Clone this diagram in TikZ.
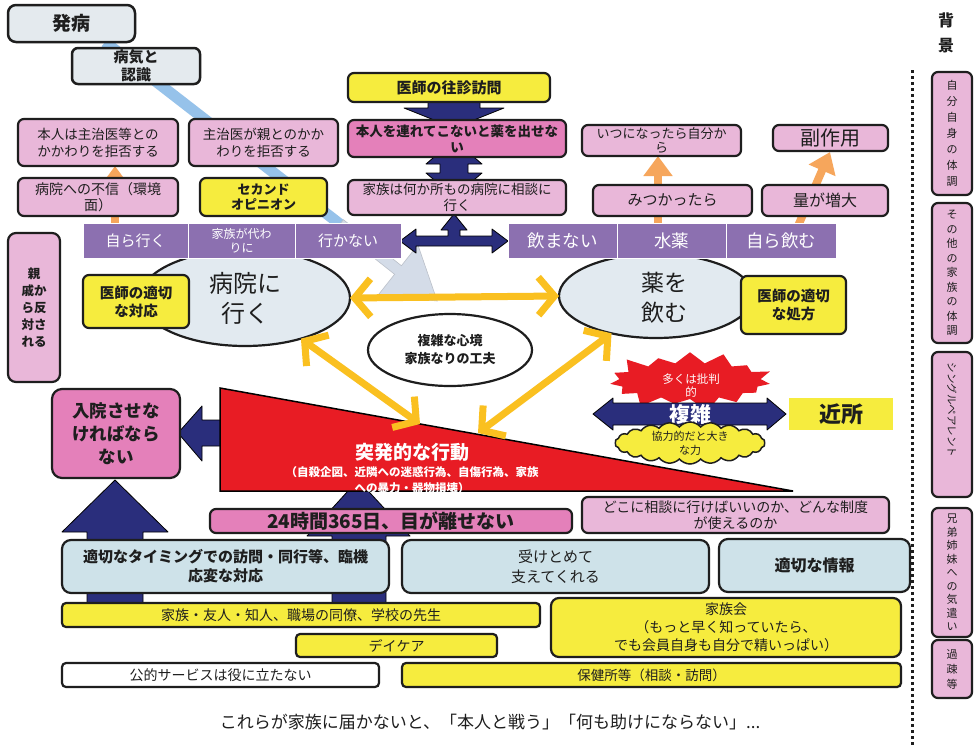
\documentclass[tikz,border=0pt]{standalone}
\usepackage{fontspec}
\setmainfont{Noto Sans CJK JP}
\usetikzlibrary{shapes.geometric,shapes.symbols,arrows.meta}
\pgfdeclarelayer{bgw}
\pgfdeclarelayer{bg}
\pgfsetlayers{bgw,bg,main}
\definecolor{pinkL}{RGB}{233,183,217}
\definecolor{pinkD}{RGB}{228,128,186}
\definecolor{yel}{RGB}{246,236,62}
\definecolor{lblue}{RGB}{206,226,233}
\definecolor{gbox}{RGB}{228,234,238}
\definecolor{ellf}{RGB}{226,234,240}
\definecolor{purp}{RGB}{140,112,176}
\definecolor{navy}{RGB}{42,46,124}
\definecolor{redt}{RGB}{232,28,36}
\definecolor{gold}{RGB}{250,192,32}
\definecolor{orng}{RGB}{246,166,92}
\definecolor{bandc}{RGB}{150,194,234}
\definecolor{palec}{RGB}{212,220,232}
\definecolor{ink}{RGB}{30,30,30}
\newcommand\fs[2]{\fontsize{#1}{#2}\selectfont}
\newcommand\bx[7]{\node[#2, minimum width={(#5)-(#3)}, minimum height={(#6)-(#4)}] (#1) at ({((#3)+(#5))/2},{((#4)+(#6))/2}) {#7};}
\tikzset{
 bxs/.style={draw=ink, line width=2.2pt, rounded corners=6pt, inner sep=0pt, outer sep=0pt, align=center, text=ink},
 pl/.style={bxs, fill=pinkL},
 pd/.style={bxs, fill=pinkD},
 yb/.style={bxs, fill=yel},
 lb/.style={bxs, fill=lblue},
 gb/.style={bxs, fill=gbox},
 wb/.style={bxs, fill=white},
 plainy/.style={fill=yel, inner sep=0pt, outer sep=0pt, text=ink},
 cell/.style={fill=purp, draw=white, line width=1pt, inner sep=0pt, outer sep=0pt, align=center, text=white},
 ell/.style={ellipse, draw=ink, line width=2.2pt, inner sep=0pt, outer sep=0pt, align=center, text=ink},
 navyarr/.style={fill=navy, draw=black, line width=0.8pt, line join=round},
 goldarr/.style={draw=gold, line width=7pt, >={Straight Barb[length=16pt,width=38pt]}, <->},
 orarr/.style={draw=orng, line width=8pt, -{Triangle[length=20pt,width=28pt]}},
}
\begin{document}
\begin{tikzpicture}[x=1pt,y=-1pt]
\useasboundingbox (0,0) rectangle (974,745);
\begin{pgfonlayer}{bgw}
\fill[white] (0,0) rectangle (974,745);
\end{pgfonlayer}

% top left
\bx{hatsu}{gb,font=\fs{19}{22}\bfseries,rounded corners=8pt,line width=2.5pt}{8}{5}{135}{42}{発病}
\bx{ninshiki}{gb,font=\fs{15}{18}\bfseries,line width=2.5pt}{72}{48}{200}{84}{病気と\\認識}
% center stack
\bx{oushin}{yb,font=\fs{15}{18}\bfseries}{348}{73}{550}{102}{医師の往診訪問}
\bx{tsurete}{pd,font=\fs{13.5}{16}\bfseries}{348}{120}{566}{157}{本人を連れてこないと薬を出せな\\い}
\bx{soudan}{pl,font=\fs{13.5}{16}}{348}{180}{566}{215}{家族は何か所もの病院に相談に\\行く}
% left pinks
\bx{kyohi1}{pl,font=\fs{13.5}{17}}{18}{119}{178}{166}{本人は主治医等との\\かかわりを拒否する}
\bx{kyohi2}{pl,font=\fs{13.5}{17}}{189}{119}{338}{166}{主治医が親とのかか\\わりを拒否する}
\bx{fushin}{pl,font=\fs{14}{16}}{18}{178}{178}{216}{病院への不信（環境\\面）}
\bx{second}{yb,font=\fs{13}{15}\bfseries}{200}{178}{327}{216}{セカンド\\オピニオン}
% right pinks
\bx{itsu}{pl,font=\fs{13}{14}}{582}{125}{741}{156}{いつになったら自分か\\ら}
\bx{fuku}{pl,font=\fs{20}{22}}{773}{125}{888}{151}{副作用}
\bx{mitsu}{pl,font=\fs{15}{18}}{593}{185}{752}{216}{みつかったら}
\bx{zoudai}{pl,font=\fs{16}{18}}{762}{185}{888}{216}{量が増大}

% ellipses
\node[ell, fill=ellf, minimum width=210pt, minimum height=96pt, font=\fs{24}{30}] (byoin) at (245,298) {病院に\\行く};
\node[ell, fill=ellf, minimum width=194pt, minimum height=84pt] (kusuri) at (656,296) {};
\node[font=\fs{23}{30}, align=center, text=ink] (kusurit) at (664,298) {薬を\\飲む};

% purple bars
\bx{c1}{cell,font=\fs{15}{18}}{83}{223}{188}{258}{自ら行く}
\bx{c2}{cell,font=\fs{12}{14}}{188}{223}{295}{258}{家族が代わ\\りに}
\bx{c3}{cell,font=\fs{15}{18}}{295}{223}{401}{258}{行かない}
\bx{c4}{cell,font=\fs{17.5}{20}}{508}{223}{617}{258}{飲まない}
\bx{c5}{cell,font=\fs{17.5}{20}}{617}{223}{726}{258}{水薬}
\bx{c6}{cell,font=\fs{17.5}{20}}{726}{223}{836}{258}{自ら飲む}

% yellow doctor boxes and relatives
\bx{taiou}{yb,font=\fs{14.5}{18}\bfseries}{83}{275}{189}{328}{医師の適切\\な対応}
\bx{shohou}{yb,font=\fs{14.5}{18}\bfseries}{741}{276}{846}{334}{医師の適切\\な処方}
\bx{shinseki}{pl,font=\fs{12.5}{17}\bfseries,rounded corners=8pt}{8}{233}{60}{382}{親\\戚か\\ら反\\対さ\\れる}

% center ellipse
\node[ell, fill=white, minimum width=164pt, minimum height=72pt, font=\fs{13}{18}\bfseries] (shinkyo) at (450,350) {複雑な心境\\家族なりの工夫};

% hospitalisation
\bx{nyuin}{pd,font=\fs{17.5}{23}\bfseries,rounded corners=10pt}{52}{389}{180}{478}{入院させな\\ければなら\\ない}

% red triangle
\filldraw[fill=redt, draw=black, line width=1.5pt] (220,388) -- (793,491) -- (220,491) -- cycle;
\node[text=white, font=\fs{19}{22}\bfseries] (toppatsu) at (412,452) {突発的な行動};
\node[text=white, font=\fs{11.5}{16}\bfseries, align=center] (rei) at (412,480) {（自殺企図、近隣への迷惑行為、自傷行為、家族\\への暴力・器物損壊）};

% neighbourhood cluster
\node[starburst, starburst points=15, starburst point height=15pt, fill=redt, draw=none, minimum width=172pt, minimum height=66pt, inner sep=0pt] (hihan) at (690,381) {};
\node[text=white, font=\fs{11.5}{13}, align=center] (hihant) at (691,386) {多くは批判\\的};
\filldraw[navyarr] (593,414) -- (613,398) -- (613,403) -- (767,403) -- (767,398) -- (786,414) -- (767,430) -- (767,425) -- (613,425) -- (613,430) -- cycle;
\node[text=white, font=\fs{21}{24}\bfseries] (fukuzatsu) at (690,414) {複雑};
\node[cloud, cloud puffs=22, cloud puff arc=100, aspect=3.6, fill=yel, draw=ink, line width=1.5pt, minimum width=150pt, minimum height=42pt, inner sep=0pt] (kyoryoku) at (690,443) {};
\node[font=\fs{11}{14}, align=center, text=ink] (kyoryokut) at (690,443) {協力的だと大き\\な力};
\bx{kinjo}{plainy,font=\fs{22}{24}\bfseries}{789}{398}{893}{430}{近所}

% bottom boxes
\bx{allday}{pd,font=\fs{19}{22}\bfseries}{210}{509}{572}{533}{24時間365日、目が離せない}
\bx{dokoni}{pl,font=\fs{14}{16}}{582}{497}{889}{533}{どこに相談に行けばいいのか、どんな制度\\が使えるのか}
\bx{timing}{lb,font=\fs{15}{19}\bfseries,rounded corners=9pt}{62}{540}{389}{593}{適切なタイミングでの訪問・同行等、臨機\\応変な対応}
\bx{uketome}{lb,font=\fs{15}{20},rounded corners=9pt}{402}{540}{709}{593}{受けとめて\\支えてくれる}
\bx{jouhou}{lb,font=\fs{16}{18}\bfseries,rounded corners=9pt}{719}{539}{910}{592}{適切な情報}
\bx{yujin}{yb,font=\fs{14}{16},rounded corners=4pt}{62}{603}{540}{627}{家族・友人・知人、職場の同僚、学校の先生}
\bx{kazokukai}{yb,font=\fs{14}{18},rounded corners=8pt}{551}{598}{901}{657}{家族会\\（もっと早く知っていたら、\\でも会員自身も自分で精いっぱい）}
\bx{daycare}{yb,font=\fs{14}{16},rounded corners=4pt}{296}{634}{497}{657}{デイケア}
\bx{koteki}{wb,font=\fs{14}{16},rounded corners=4pt}{62}{663}{379}{687}{公的サービスは役に立たない}
\bx{hoken}{yb,font=\fs{13.5}{16},rounded corners=4pt}{402}{663}{901}{687}{保健所等（相談・訪問）}
\node[font=\fs{17}{20}, text=ink] (bottomtext) at (490,722) {これらが家族に届かないと、「本人と戦う」「何も助けにならない」...};

% right column
\node[font=\fs{16}{25}\bfseries, align=center, text=ink] (haikei) at (946,33) {背\\景};
\draw[line width=3pt, dash pattern=on 3pt off 3pt, ink] (912,70) -- (912,745);
\bx{r1}{pl,font=\fs{11}{16}}{932}{72}{972}{195}{自\\分\\自\\身\\の\\体\\調}
\bx{r2}{pl,font=\fs{11}{14.5}}{932}{203}{972}{343}{そ\\の\\他\\の\\家\\族\\の\\体\\調}
\bx{r3}{pl}{932}{352}{972}{497}{}
\node[rotate=-90, font=\fs{10.5}{12}, text=ink] (r3t) at (952,410) {シングルペアレント};
\bx{r4}{pl,font=\fs{11}{13.5}}{932}{508}{972}{637}{兄\\弟\\姉\\妹\\へ\\の\\気\\遣\\い}
\bx{r5}{pl,font=\fs{11}{15}}{932}{640}{972}{698}{過\\疎\\等}

% gold arrows
\coordinate (t1) at (420,424);
\coordinate (t2) at (478,433);
\draw[goldarr] (byoin.east) -- (kusuri.west);
\draw[goldarr] (byoin.-36) -- (t1);
\draw[goldarr] (kusuri.-140) -- (t2);

% background connectors
\begin{pgfonlayer}{bg}
\draw[line width=11pt, bandc] (hatsu.south -| 105,0) -- (345,228);
\filldraw[fill=palec, draw=palec!70!gray, line width=0.6pt] (343.4,219.7) -- (401.4,265.7) -- (417.9,244.9) -- (437.2,301) -- (378.1,295.1) -- (394.6,274.3) -- (336.6,228.3) -- cycle;
\coordinate (o1s) at (115,232);
\draw[orarr] (o1s) -- (kyohi1.south -| o1s);
\coordinate (o2s) at (658,226);
\draw[orarr] (o2s) -- (itsu.south -| o2s);
\coordinate (o3s) at (798,226);
\coordinate (o3e) at (830,152);
\draw[orarr] (o3s) -- (o3e);
% navy block arrows
\filldraw[navyarr] (87,603) -- (87,532) -- (62,532) -- (115,480) -- (168,532) -- (143,532) -- (143,603) -- cycle;
\filldraw[navyarr] (332,603) -- (332,536) -- (307,536) -- (358,480) -- (410,536) -- (386,536) -- (386,603) -- cycle;
\filldraw[navyarr] (225,420) -- (202,420) -- (202,406) -- (178,433) -- (202,461) -- (202,446) -- (225,446) -- cycle;
\filldraw[navyarr] (428,95) -- (428,108) -- (404,108) -- (454,128) -- (504,108) -- (480,108) -- (480,95) -- cycle;
\filldraw[navyarr] (454,140) -- (482,164) -- (468,164) -- (468,173) -- (482,173) -- (454,197) -- (426,173) -- (440,173) -- (440,164) -- (426,164) -- cycle;
\filldraw[navyarr] (400,241) -- (416,229) -- (416,236) -- (448,236) -- (448,230) -- (441,230) -- (454,214) -- (467,230) -- (460,230) -- (460,236) -- (492,236) -- (492,229) -- (508,241) -- (492,253) -- (492,246) -- (416,246) -- (416,253) -- cycle;
\end{pgfonlayer}
\end{tikzpicture}
\end{document}
